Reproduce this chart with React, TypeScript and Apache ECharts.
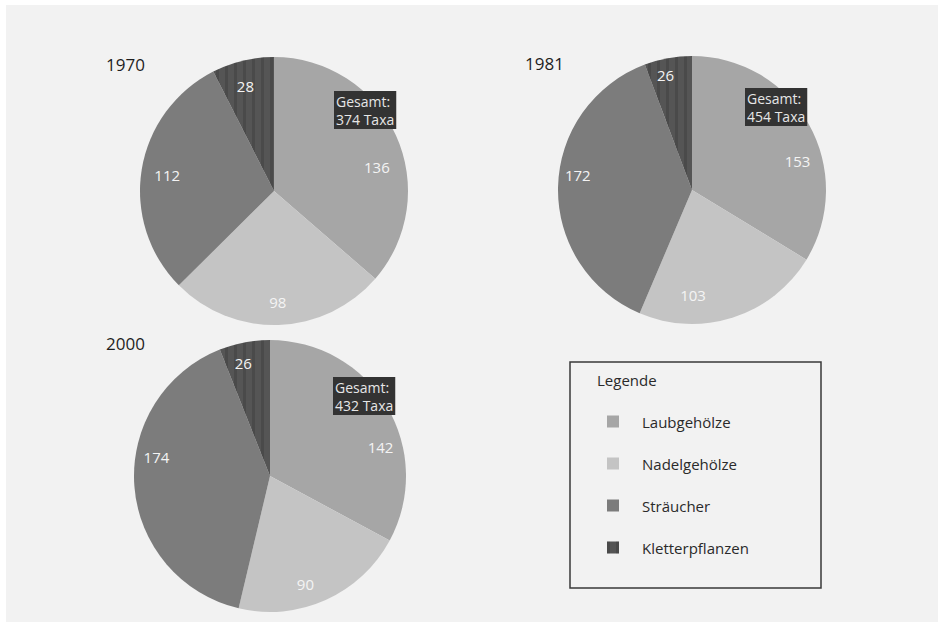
import React, { useEffect, useRef } from "react";
import * as echarts from "echarts";

const categories = ["Laubgehölze", "Nadelgehölze", "Sträucher", "Kletterpflanzen"];
const years = ["1970", "1981", "2000"];
const values1970 = [136, 98, 112, 28];
const values1981 = [153, 103, 172, 26];
const values2000 = [142, 90, 174, 26];
const colors = ["#a6a6a6", "#c4c4c4", "#7c7c7c", "#555555"];

const FONT = "'Open Sans', 'Noto Sans', sans-serif";

export default function App() {
  const ref = useRef<HTMLDivElement>(null);
  useEffect(() => {
    document.body.style.margin = "0";
    const chart = echarts.init(ref.current!, null, { renderer: "svg" });
    const allValues = [values1970, values1981, values2000];
    const layouts = [
      {
        center: [274, 191], r: 134, title: [106, 56], box: [334, 91],
        shifts: [[-1, 23], [0, -3], [6, 2], [-2, 6]],
      },
      {
        center: [692, 190], r: 134, title: [525, 55], box: [745, 88],
        shifts: [[6, 27], [-34, -4], [0, -13], [-6, -3]],
      },
      {
        center: [270, 476], r: 136, title: [106, 335], box: [333, 377],
        shifts: [[11, 30], [-12, 2], [2, -27], [-5, 1]],
      },
    ];
    const decal = {
      symbol: "rect",
      symbolSize: 1,
      dashArrayX: [[3, 6]],
      dashArrayY: [1, 0],
      color: "rgba(0,0,0,0.13)",
      rotation: 0,
    };
    const series: any[] = [];
    const graphic: any[] = [
      { type: "rect", shape: { x: 6, y: 5, width: 932, height: 617 }, style: { fill: "#f2f2f2" }, z: -10 },
    ];
    allValues.forEach((vals, i) => {
      const L = layouts[i];
      const data = vals.map((v, k) => ({
        name: categories[k],
        value: v,
        itemStyle: k === 3 ? { color: colors[k], decal } : { color: colors[k] },
      }));
      series.push({
        type: "pie",
        name: years[i],
        center: L.center,
        radius: [0, L.r],
        startAngle: 90,
        clockwise: true,
        label: { show: false },
        labelLine: { show: false },
        emphasis: { disabled: true },
        data,
      });
      series.push({
        type: "pie",
        name: years[i] + "-labels",
        center: L.center,
        radius: [L.r * 0.66, L.r],
        startAngle: 90,
        clockwise: true,
        silent: true,
        itemStyle: { color: "rgba(0,0,0,0)" },
        label: {
          show: true,
          position: "inside",
          formatter: "{c}",
          color: "#f4f4f4",
          fontSize: 15,
          fontFamily: FONT,
        },
        labelLine: { show: false },
        labelLayout: (p: any) => ({ dx: L.shifts[p.dataIndex][0], dy: L.shifts[p.dataIndex][1] }),
        emphasis: { disabled: true },
        data: vals.map((v, k) => ({ name: categories[k] + " ", value: v, itemStyle: { color: "rgba(0,0,0,0)" } })),
      });
      const total = vals.reduce((a, b) => a + b, 0);
      graphic.push({
        type: "text",
        x: L.title[0],
        y: L.title[1],
        style: { text: years[i], fontSize: 17, fontFamily: FONT, fill: "#1e1e1e" },
      });
      graphic.push({
        type: "text",
        x: L.box[0],
        y: L.box[1],
        z: 10,
        style: {
          text: "Gesamt:\n" + total + " Taxa",
          fontSize: 14,
          lineHeight: 18,
          fontFamily: FONT,
          fill: "#e6e6e6",
          backgroundColor: "#333333",
          padding: [1, 2, 1, 2],
        },
      });
    });
    graphic.push({
      type: "rect",
      shape: { x: 570, y: 362, width: 251, height: 226 },
      style: { fill: "transparent", stroke: "#3a3a3a", lineWidth: 1.5 },
    });
    graphic.push({
      type: "text",
      x: 597,
      y: 372,
      style: { text: "Legende", fontSize: 15, fontFamily: FONT, fill: "#2a2a2a" },
    });
    chart.setOption({
      animation: false,
      backgroundColor: "#ffffff",
      legend: {
        orient: "vertical",
        left: 602,
        top: 406,
        itemWidth: 12,
        itemHeight: 12,
        itemGap: 21,
        icon: "rect",
        data: categories,
        textStyle: { fontSize: 15, lineHeight: 21, fontFamily: FONT, color: "#2a2a2a", padding: [0, 0, 0, 18] },
        selectedMode: false,
      },
      graphic,
      series,
    });
    return () => chart.dispose();
  }, []);
  return <div ref={ref} style={{ width: 944, height: 625 }} />;
}
